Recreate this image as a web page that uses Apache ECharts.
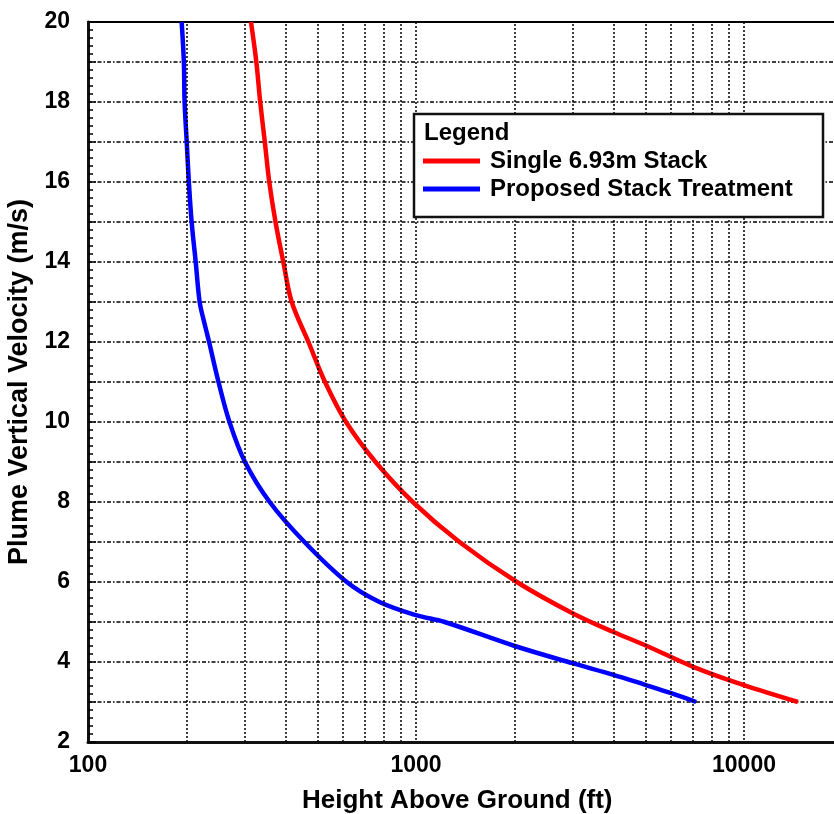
<!DOCTYPE html>
<html>
<head>
<meta charset="utf-8">
<script src="https://cdn.jsdelivr.net/npm/echarts@6/dist/echarts.min.js"></script>
<style>
  html, body { margin: 0; padding: 0; background: #fff; }
  #chart { width: 834px; height: 814px; }
</style>
</head>
<body>
<div id="chart"></div>
<script>
// readings: [height (ft), velocity (m/s)]
const singleStack = [
  [314, 20], [326, 19], [335, 18], [346, 17], [357, 16], [373, 15],
  [394, 14], [418, 13], [470, 12], [528, 11], [612, 10], [753, 9],
  [978, 8], [1357, 7], [2030, 6], [3000, 5.22], [4000, 4.75],
  [5000, 4.42], [7000, 3.88], [10000, 3.42], [14600, 3]
];
const proposedStack = [
  [193, 20], [196, 19], [197, 18], [200, 17], [203, 16], [207, 15],
  [213, 14], [219, 13], [226, 12.5], [234, 12], [250, 11], [270, 10],
  [301, 9], [358, 8], [457, 7], [615, 6], [774, 5.5], [1000, 5.17],
  [1222, 5], [2000, 4.4], [3000, 3.97], [4000, 3.68],
  [5000, 3.43], [6000, 3.22], [7150, 3]
];
const minorX = [200, 300, 400, 500, 600, 700, 800, 900,
  2000, 3000, 4000, 5000, 6000, 7000, 8000, 9000];
const seriesNames = ["Single 6.93m Stack", "Proposed Stack Treatment"];

const chart = echarts.init(document.getElementById("chart"));
const font = "Liberation Sans, Arial, sans-serif";
const dashDot = [4, 2, 1.5, 2];
const dotted = [2, 2];

const option = {
  animation: false,
  backgroundColor: "#fff",
  grid: {
    left: 88,
    top: 22,
    width: 984, // plot runs past the right edge, as in the cropped original
    height: 720,
    outerBoundsMode: "none",
    containLabel: false,
    show: true,
    borderColor: "#000",
    borderWidth: 2,
  },
  xAxis: {
    type: "log",
    logBase: 10,
    min: 100,
    max: 100000,
    axisLine: { lineStyle: { color: "#111", width: 3 } },
    axisTick: { show: false },
    axisLabel: {
      color: "#000",
      fontFamily: font,
      fontWeight: "bold",
      fontSize: 23,
      margin: 12,
      formatter: (v) => String(v),
    },
    splitLine: { show: true, lineStyle: { color: "#000", type: dotted, width: 1.5 } },
  },
  yAxis: {
    type: "value",
    min: 2,
    max: 20,
    interval: 1,
    name: "Plume Vertical Velocity (m/s)",
    nameLocation: "middle",
    nameGap: 39,
    nameTextStyle: { color: "#000", fontFamily: font, fontWeight: "bold", fontSize: 27 },
    axisLine: { show: true, lineStyle: { color: "#111", width: 3 } },
    axisTick: { show: true, inside: true, length: 8, lineStyle: { color: "#000", width: 1.5 } },
    minorTick: { show: true, splitNumber: 5, length: 5, lineStyle: { color: "#000", width: 1.5 } },
    axisLabel: {
      color: "#000",
      fontFamily: font,
      fontWeight: "bold",
      fontSize: 23,
      margin: 18,
      formatter: (v) => (v % 2 === 0 ? String(v) : ""),
    },
    splitLine: { show: true, lineStyle: { color: "#000", type: dashDot, width: 1.5 } },
  },
  legend: {
    data: seriesNames.map((n) => ({ name: n, icon: "rect" })),
    orient: "vertical",
    left: 414,
    top: 114,
    padding: [35, 0, 0, 9],
    itemWidth: 57,
    itemHeight: 5,
    itemGap: 4,
    z: 200,
    textStyle: {
      color: "#000",
      fontFamily: font,
      fontWeight: "bold",
      fontSize: 24,
      padding: [0, 0, 0, 5],
    },
  },
  graphic: [
    {
      type: "rect",
      z: 100,
      shape: { x: 414, y: 114, width: 409, height: 103 },
      style: { fill: "#fff", stroke: "#111", lineWidth: 2.5 },
    },
    {
      type: "text",
      z: 101,
      left: 424,
      top: 121,
      style: { text: "Legend", fill: "#000", font: "bold 24px " + font },
    },
    {
      type: "text",
      left: 302,
      top: 788,
      style: { text: "Height Above Ground (ft)", fill: "#000", font: "bold 26px " + font },
    },
  ],
  series: [
    {
      type: "line",
      data: [],
      silent: true,
      markLine: {
        silent: true,
        symbol: ["none", "none"],
        label: { show: false },
        lineStyle: { color: "#000", type: dotted, width: 1.5 },
        data: minorX.map((x) => ({ xAxis: x })),
      },
    },
    {
      name: seriesNames[0],
      type: "line",
      data: singleStack,
      symbol: "none",
      smooth: 0.35,
      lineStyle: { color: "#ff0000", width: 4.5 },
      itemStyle: { color: "#ff0000" },
    },
    {
      name: seriesNames[1],
      type: "line",
      data: proposedStack,
      symbol: "none",
      smooth: 0.35,
      lineStyle: { color: "#0000ff", width: 4.5 },
      itemStyle: { color: "#0000ff" },
    },
  ],
};

chart.setOption(option);
</script>
</body>
</html>
